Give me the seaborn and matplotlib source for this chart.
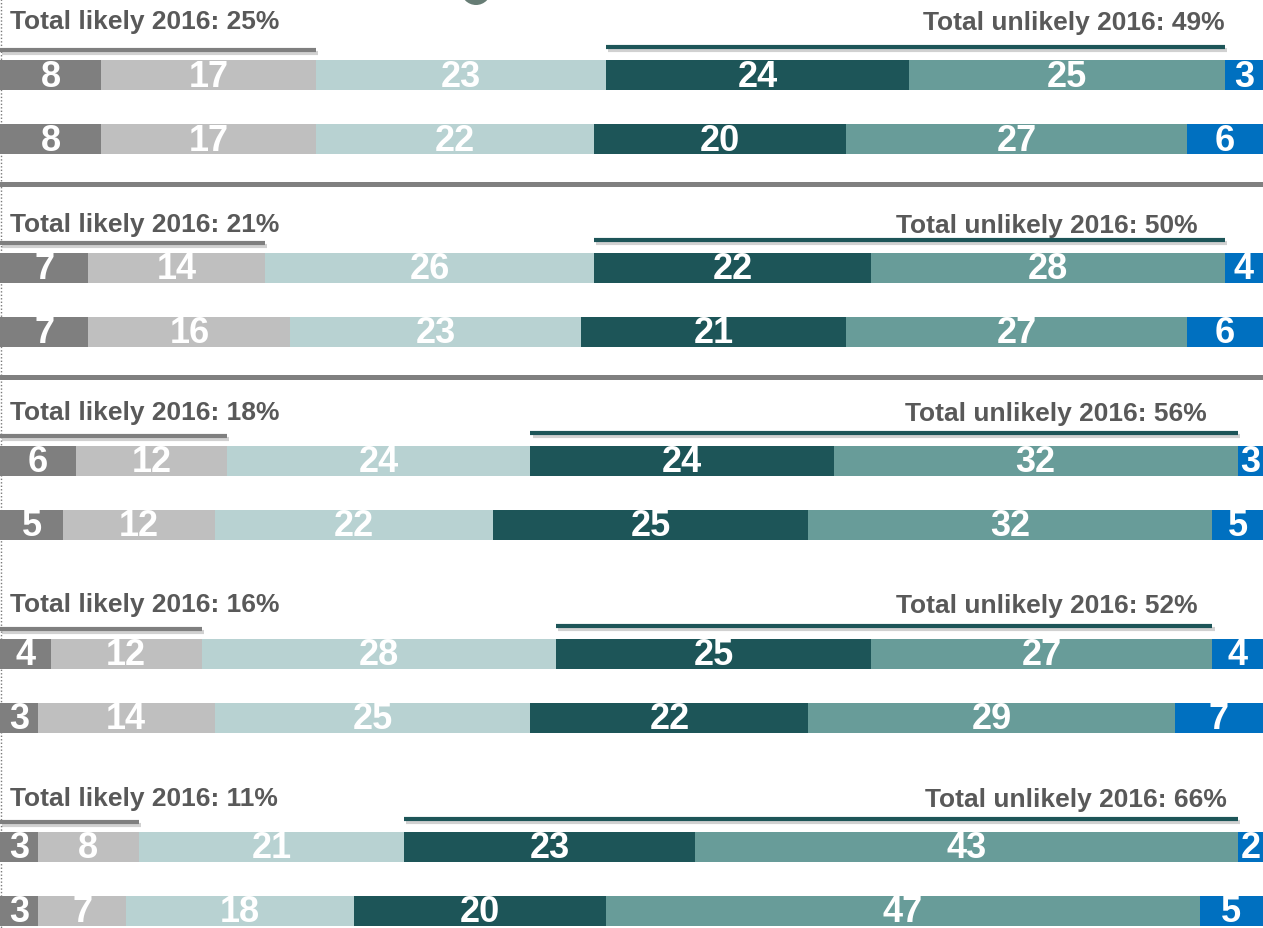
import numpy as np
import pandas as pd
import matplotlib
matplotlib.use("Agg")
import matplotlib.pyplot as plt
import matplotlib.patheffects as pe
from matplotlib.patches import Ellipse
import seaborn as sns

# Response shares per row (two rows per question: 2016 on top, earlier survey below)
very_likely = [8, 8, 7, 7, 6, 5, 4, 3, 3, 3]
fairly_likely = [17, 17, 14, 16, 12, 12, 12, 14, 8, 7]
neither = [23, 22, 26, 23, 24, 22, 28, 25, 21, 18]
fairly_unlikely = [24, 20, 22, 21, 24, 25, 25, 22, 23, 20]
very_unlikely = [25, 27, 28, 27, 32, 32, 27, 29, 43, 47]
dont_know = [3, 6, 4, 6, 3, 5, 4, 7, 2, 5]

# Headline totals for 2016 per question
total_likely_2016 = [25, 21, 18, 16, 11]
total_unlikely_2016 = [49, 50, 56, 52, 66]

segment_colors = ["#7f7f7f", "#bfbfbf", "#b8d2d2", "#1d5558", "#689c99", "#0070c0"]

sns.set_theme(style="white")
plt.rcParams["font.family"] = ["Liberation Sans", "DejaVu Sans"]

W, H = 1263, 929
PX_PER_UNIT = 12.63  # one percentage point in pixels

fig = plt.figure(figsize=(W / 100, H / 100), dpi=100)
ax = fig.add_axes([0, 0, 1, 1])

# Row layout in pixel units (y grows downward)
group_step = 192.9
row_step = 64.0
first_row = 76.0
bar_h = 30.0
n_groups = 5
ypos = [first_row + g * group_step + r * row_step for g in range(n_groups) for r in range(2)]


def px(x):
    return x / PX_PER_UNIT


segments = [very_likely, fairly_likely, neither, fairly_unlikely, very_unlikely, dont_know]
cum = np.cumsum(np.array(segments, dtype=float), axis=0)
starts = np.vstack([np.zeros(len(ypos)), cum[:-1]])

# Stacked bars: draw cumulative totals from the outermost segment inward
for k in range(len(segments) - 1, -1, -1):
    df = pd.DataFrame({"end": cum[k], "y": ypos})
    sns.barplot(
        data=df, x="end", y="y", orient="y", native_scale=True,
        width=bar_h / row_step, color=segment_colors[k], saturation=1,
        errorbar=None, linewidth=0, ax=ax, zorder=3,
    )

# Value labels centred on the visible part of each segment
for k in range(len(segments)):
    for i, y in enumerate(ypos):
        s0, s1 = starts[k][i], min(cum[k][i], 100.0)
        ax.text((s0 + s1) / 2, y + 1, f"{segments[k][i]}", ha="center", va="center",
                color="white", fontsize=26, fontweight="bold", zorder=5)

shadow = [pe.SimpleLineShadow(offset=(1.5, -2.5), shadow_color="#000000", alpha=0.18),
          pe.Normal()]

header_dy = [54, 44, 49, 50, 49]
right_text_px = [1225, 1198, 1207, 1198, 1227]
for g in range(n_groups):
    ya = ypos[2 * g]
    ia = 2 * g
    # Bracket lines over the 2016 bar
    ax.plot([0, total_likely_2016[g]], [ya - 25, ya - 25], color="#7f7f7f",
            lw=3.0, solid_capstyle="butt", path_effects=shadow, zorder=4)
    u0 = starts[3][ia]
    ax.plot([u0, u0 + total_unlikely_2016[g]], [ya - 28, ya - 28], color="#1d5558",
            lw=3.0, solid_capstyle="butt", path_effects=shadow, zorder=4)
    ax.text(px(10), ya - header_dy[g], f"Total likely 2016: {total_likely_2016[g]}%",
            ha="left", va="center", color="#595959", fontsize=19, fontweight="bold")
    ax.text(px(right_text_px[g]), ya - header_dy[g] + 1,
            f"Total unlikely 2016: {total_unlikely_2016[g]}%",
            ha="right", va="center", color="#595959", fontsize=19, fontweight="bold")

# Section dividers under the first two questions
for g in range(2):
    yb = ypos[2 * g + 1] + 45
    ax.axhline(yb, color="#808080", lw=3.6, zorder=2)

# Dotted guide along the left edge
ax.plot([px(1.2), px(1.2)], [0, H], color="#7a7a7a", lw=1.0, ls=(0, (1, 1.5)), zorder=1)

# Lower curve of the slide heading's glyph showing at the top edge
ax.add_patch(Ellipse((px(476), -9), px(30), 30, facecolor="#677d75",
                     edgecolor="none", zorder=1))

ax.set_xlim(0, px(W))
ax.set_ylim(H, 0)
ax.axis("off")

fig.savefig("out.png", dpi=100)
